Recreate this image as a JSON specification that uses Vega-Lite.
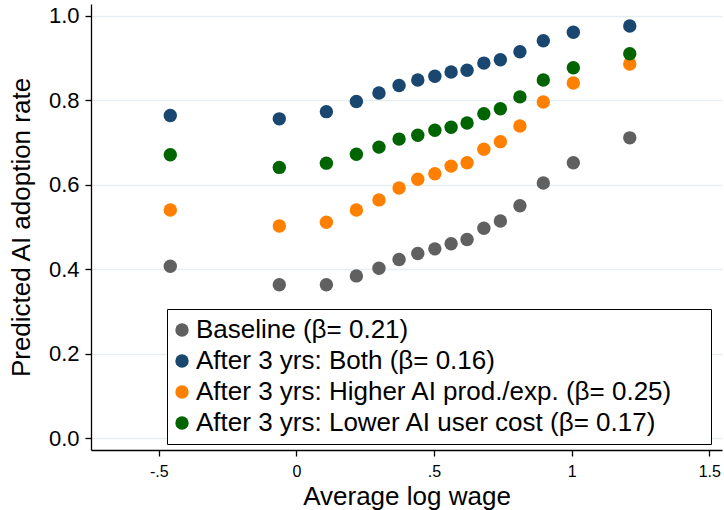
{
  "$schema": "https://vega.github.io/schema/vega-lite/v6.json",
  "autosize": {"type": "none"},
  "padding": {"left": 91, "top": 4, "right": 2, "bottom": 60},
  "width": 631,
  "height": 446,
  "background": "white",
  "config": {
    "view": {"stroke": null},
    "font": "Liberation Sans",
    "axis": {
      "domainColor": "black",
      "domainWidth": 1.3,
      "tickColor": "black",
      "tickWidth": 1.3,
      "tickSize": 6,
      "labelColor": "black",
      "titleColor": "black",
      "titleFontWeight": "normal",
      "labelFont": "Liberation Sans",
      "titleFont": "Liberation Sans"
    }
  },
  "data": {
    "values": [
      {"x": -0.458, "y": 0.407, "series": "Baseline (β= 0.21)"},
      {"x": -0.062, "y": 0.363, "series": "Baseline (β= 0.21)"},
      {"x": 0.109, "y": 0.363, "series": "Baseline (β= 0.21)"},
      {"x": 0.218, "y": 0.384, "series": "Baseline (β= 0.21)"},
      {"x": 0.300, "y": 0.402, "series": "Baseline (β= 0.21)"},
      {"x": 0.373, "y": 0.423, "series": "Baseline (β= 0.21)"},
      {"x": 0.441, "y": 0.437, "series": "Baseline (β= 0.21)"},
      {"x": 0.503, "y": 0.448, "series": "Baseline (β= 0.21)"},
      {"x": 0.562, "y": 0.460, "series": "Baseline (β= 0.21)"},
      {"x": 0.620, "y": 0.470, "series": "Baseline (β= 0.21)"},
      {"x": 0.681, "y": 0.497, "series": "Baseline (β= 0.21)"},
      {"x": 0.741, "y": 0.514, "series": "Baseline (β= 0.21)"},
      {"x": 0.812, "y": 0.550, "series": "Baseline (β= 0.21)"},
      {"x": 0.897, "y": 0.604, "series": "Baseline (β= 0.21)"},
      {"x": 1.006, "y": 0.652, "series": "Baseline (β= 0.21)"},
      {"x": 1.211, "y": 0.711, "series": "Baseline (β= 0.21)"},
      {"x": -0.458, "y": 0.764, "series": "After 3 yrs: Both (β= 0.16)"},
      {"x": -0.062, "y": 0.756, "series": "After 3 yrs: Both (β= 0.16)"},
      {"x": 0.109, "y": 0.773, "series": "After 3 yrs: Both (β= 0.16)"},
      {"x": 0.218, "y": 0.797, "series": "After 3 yrs: Both (β= 0.16)"},
      {"x": 0.300, "y": 0.817, "series": "After 3 yrs: Both (β= 0.16)"},
      {"x": 0.373, "y": 0.835, "series": "After 3 yrs: Both (β= 0.16)"},
      {"x": 0.441, "y": 0.848, "series": "After 3 yrs: Both (β= 0.16)"},
      {"x": 0.503, "y": 0.857, "series": "After 3 yrs: Both (β= 0.16)"},
      {"x": 0.562, "y": 0.867, "series": "After 3 yrs: Both (β= 0.16)"},
      {"x": 0.620, "y": 0.871, "series": "After 3 yrs: Both (β= 0.16)"},
      {"x": 0.681, "y": 0.888, "series": "After 3 yrs: Both (β= 0.16)"},
      {"x": 0.741, "y": 0.896, "series": "After 3 yrs: Both (β= 0.16)"},
      {"x": 0.812, "y": 0.915, "series": "After 3 yrs: Both (β= 0.16)"},
      {"x": 0.897, "y": 0.941, "series": "After 3 yrs: Both (β= 0.16)"},
      {"x": 1.006, "y": 0.961, "series": "After 3 yrs: Both (β= 0.16)"},
      {"x": 1.211, "y": 0.976, "series": "After 3 yrs: Both (β= 0.16)"},
      {"x": -0.458, "y": 0.540, "series": "After 3 yrs: Higher AI prod./exp. (β= 0.25)"},
      {"x": -0.062, "y": 0.502, "series": "After 3 yrs: Higher AI prod./exp. (β= 0.25)"},
      {"x": 0.109, "y": 0.511, "series": "After 3 yrs: Higher AI prod./exp. (β= 0.25)"},
      {"x": 0.218, "y": 0.540, "series": "After 3 yrs: Higher AI prod./exp. (β= 0.25)"},
      {"x": 0.300, "y": 0.564, "series": "After 3 yrs: Higher AI prod./exp. (β= 0.25)"},
      {"x": 0.373, "y": 0.592, "series": "After 3 yrs: Higher AI prod./exp. (β= 0.25)"},
      {"x": 0.441, "y": 0.613, "series": "After 3 yrs: Higher AI prod./exp. (β= 0.25)"},
      {"x": 0.503, "y": 0.626, "series": "After 3 yrs: Higher AI prod./exp. (β= 0.25)"},
      {"x": 0.562, "y": 0.644, "series": "After 3 yrs: Higher AI prod./exp. (β= 0.25)"},
      {"x": 0.620, "y": 0.652, "series": "After 3 yrs: Higher AI prod./exp. (β= 0.25)"},
      {"x": 0.681, "y": 0.684, "series": "After 3 yrs: Higher AI prod./exp. (β= 0.25)"},
      {"x": 0.741, "y": 0.702, "series": "After 3 yrs: Higher AI prod./exp. (β= 0.25)"},
      {"x": 0.812, "y": 0.739, "series": "After 3 yrs: Higher AI prod./exp. (β= 0.25)"},
      {"x": 0.897, "y": 0.796, "series": "After 3 yrs: Higher AI prod./exp. (β= 0.25)"},
      {"x": 1.006, "y": 0.841, "series": "After 3 yrs: Higher AI prod./exp. (β= 0.25)"},
      {"x": 1.211, "y": 0.886, "series": "After 3 yrs: Higher AI prod./exp. (β= 0.25)"},
      {"x": -0.458, "y": 0.671, "series": "After 3 yrs: Lower AI user cost (β= 0.17)"},
      {"x": -0.062, "y": 0.641, "series": "After 3 yrs: Lower AI user cost (β= 0.17)"},
      {"x": 0.109, "y": 0.651, "series": "After 3 yrs: Lower AI user cost (β= 0.17)"},
      {"x": 0.218, "y": 0.672, "series": "After 3 yrs: Lower AI user cost (β= 0.17)"},
      {"x": 0.300, "y": 0.689, "series": "After 3 yrs: Lower AI user cost (β= 0.17)"},
      {"x": 0.373, "y": 0.708, "series": "After 3 yrs: Lower AI user cost (β= 0.17)"},
      {"x": 0.441, "y": 0.717, "series": "After 3 yrs: Lower AI user cost (β= 0.17)"},
      {"x": 0.503, "y": 0.729, "series": "After 3 yrs: Lower AI user cost (β= 0.17)"},
      {"x": 0.562, "y": 0.736, "series": "After 3 yrs: Lower AI user cost (β= 0.17)"},
      {"x": 0.620, "y": 0.746, "series": "After 3 yrs: Lower AI user cost (β= 0.17)"},
      {"x": 0.681, "y": 0.768, "series": "After 3 yrs: Lower AI user cost (β= 0.17)"},
      {"x": 0.741, "y": 0.780, "series": "After 3 yrs: Lower AI user cost (β= 0.17)"},
      {"x": 0.812, "y": 0.808, "series": "After 3 yrs: Lower AI user cost (β= 0.17)"},
      {"x": 0.897, "y": 0.848, "series": "After 3 yrs: Lower AI user cost (β= 0.17)"},
      {"x": 1.006, "y": 0.877, "series": "After 3 yrs: Lower AI user cost (β= 0.17)"},
      {"x": 1.211, "y": 0.910, "series": "After 3 yrs: Lower AI user cost (β= 0.17)"}
    ]
  },
  "mark": {"type": "point", "filled": true, "opacity": 1, "size": 180, "shape": "circle", "strokeWidth": 0},
  "encoding": {
    "x": {
      "field": "x",
      "type": "quantitative",
      "scale": {"domain": [-0.746, 1.546], "nice": false, "zero": false},
      "axis": {
        "title": "Average log wage",
        "values": [-0.5, 0, 0.5, 1, 1.5],
        "labelExpr": "datum.value == -0.5 ? '-.5' : datum.value == 0.5 ? '.5' : datum.value == 1.5 ? '1.5' : datum.value == 1 ? '1' : '0'",
        "labelFontSize": 16,
        "labelPadding": 7,
        "labelFlush": false,
        "labelOverlap": false,
        "titleFontSize": 26,
        "titlePadding": 4,
        "grid": false
      }
    },
    "y": {
      "field": "y",
      "type": "quantitative",
      "scale": {"domain": [-0.0284, 1.028], "nice": false, "zero": false},
      "axis": {
        "title": "Predicted AI adoption rate",
        "values": [0, 0.2, 0.4, 0.6, 0.8, 1.0],
        "format": ".1f",
        "labelFontSize": 22,
        "labelPadding": 6,
        "labelFlush": false,
        "labelOverlap": false,
        "titleFontSize": 26,
        "titlePadding": 14,
        "grid": true,
        "gridColor": "#e6eef1",
        "gridWidth": 1.5
      }
    },
    "color": {
      "field": "series",
      "type": "nominal",
      "scale": {
        "domain": [
          "Baseline (β= 0.21)",
          "After 3 yrs: Both (β= 0.16)",
          "After 3 yrs: Higher AI prod./exp. (β= 0.25)",
          "After 3 yrs: Lower AI user cost (β= 0.17)"
        ],
        "range": ["#606060", "#1a476f", "#ff8000", "#006400"]
      },
      "legend": {
        "title": " ",
        "titleOrient": "right",
        "titleFontSize": 1,
        "titlePadding": 30,
        "orient": "none",
        "legendX": 76,
        "legendY": 305,
        "strokeColor": "black",
        "fillColor": "white",
        "padding": 8,
        "labelFontSize": 26,
        "labelFont": "Liberation Sans",
        "labelColor": "black",
        "labelLimit": 1000,
        "labelOffset": 1,
        "symbolOffset": -6,
        "rowPadding": 5,
        "symbolType": "circle",
        "symbolSize": 180,
        "symbolStrokeWidth": 0,
        "symbolOpacity": 1
      }
    }
  }
}
